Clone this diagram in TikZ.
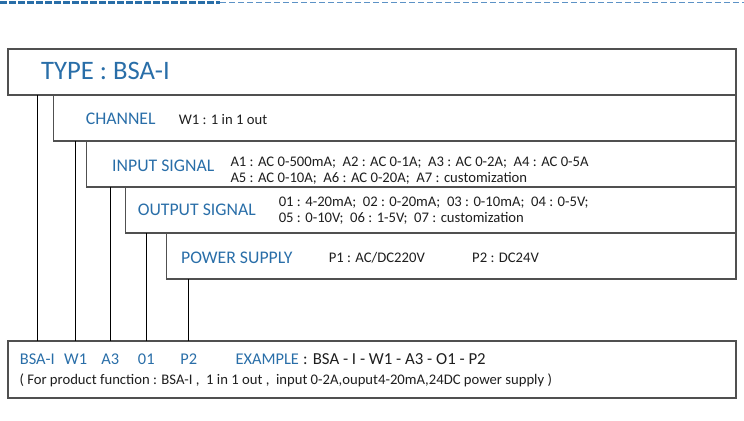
\documentclass[tikz,border=0pt]{standalone}
\usepackage{fontspec}
\setmainfont{Carlito}
\definecolor{typeblue}{RGB}{41,110,168}
\definecolor{dashblue}{RGB}{92,146,198}
\definecolor{boxgray}{RGB}{80,80,80}
\definecolor{txtgray}{RGB}{30,30,30}
\tikzset{every picture/.style={line width=0.75pt}}
\tikzset{
  framebox/.style={draw=boxgray, line width=1pt},
  drop/.style={draw=black, line width=0.75pt},
  headbig/.style={anchor=base west, inner sep=0pt, text=typeblue, font=\fontsize{20}{24}\selectfont},
  head/.style={anchor=base west, inner sep=0pt, text=typeblue, font=\fontsize{13.3}{16}\selectfont},
  desc/.style={anchor=base west, inner sep=0pt, text=txtgray, font=\fontsize{11}{13}\selectfont},
  code/.style={anchor=base, inner sep=0pt, text=typeblue, font=\fontsize{12.3}{14}\selectfont},
  exdesc/.style={anchor=base west, inner sep=0pt, text=txtgray, font=\fontsize{12.6}{14}\selectfont},
}

\begin{document}
\begin{tikzpicture}[x=0.75pt,y=0.75pt,yscale=-1,xscale=1]
	\useasboundingbox (0,0) rectangle (744,421);
	
	%Straight Lines: dashed rule on top
	\coordinate (ruleL) at (0,2.5);
	\coordinate (ruleM) at (220,2.5);
	\coordinate (ruleR) at (744,2.5);
	\draw [color=typeblue, line width=2.25pt, dash pattern=on 5.25pt off 1.5pt] (ruleL) -- (ruleM) ;
	\draw [color=dashblue, line width=1.1pt, dash pattern=on 4.5pt off 2.25pt] (ruleM) -- (ruleR) ;
	
	%Shape: Rectangle -- type
	\coordinate (typeNW) at (8,49);      \coordinate (typeSE) at (736,95);
	\draw [framebox] (typeNW) rectangle (typeSE) ;
	%Shape: Rectangle -- channel
	\coordinate (chanNW) at (53.5,95);   \coordinate (chanSE) at (736,141);
	\draw [framebox] (chanNW) rectangle (chanSE) ;
	%Shape: Rectangle -- input
	\coordinate (inNW) at (86.5,141);    \coordinate (inSE) at (736,187);
	\draw [framebox] (inNW) rectangle (inSE) ;
	%Shape: Rectangle -- output
	\coordinate (outNW) at (125.5,187);  \coordinate (outSE) at (736,233);
	\draw [framebox] (outNW) rectangle (outSE) ;
	%Shape: Rectangle -- power
	\coordinate (pwrNW) at (166.5,233);  \coordinate (pwrSE) at (736,279);
	\draw [framebox] (pwrNW) rectangle (pwrSE) ;
	%Shape: Rectangle -- example
	\coordinate (exNW) at (8,341);       \coordinate (exSE) at (736,398);
	\draw [framebox] (exNW) rectangle (exSE) ;
	
	% Text Node
	\node (typeT) [headbig] at (40.7,79.3) {TYPE : BSA-I};
	% Text Node
	\node (chanT) [head] at (85.3,124.7) {CHANNEL};
	\node (chanD) [desc] at (178.3,124) {W1 : 1 in 1 out};
	% Text Node
	\node (inT) [head] at (111.7,171) {INPUT SIGNAL};
	\node (inD1) [desc] at (230,166.3) {A1 : AC 0-500mA; \ A2 : AC 0-1A; \ A3 : AC 0-2A; \ A4 : AC 0-5A};
	\node (inD2) [desc] at (230,182.7) {A5 : AC 0-10A; \ A6 : AC 0-20A; \ A7 : customization};
	% Text Node
	\node (outT) [head] at (137.3,215.7) {OUTPUT SIGNAL};
	\node (outD1) [desc] at (278.3,206.7) {01 : 4-20mA; \ 02 : 0-20mA; \ 03 : 0-10mA; \ 04 : 0-5V;};
	\node (outD2) [desc] at (278.3,222.7) {05 : 0-10V; \ 06 : 1-5V; \ 07 : customization};
	% Text Node
	\node (pwrT) [head] at (180.7,263.3) {POWER SUPPLY};
	\node (pwrD1) [desc] at (328.3,262.5) {P1 : AC/DC220V};
	\node (pwrD2) [desc] at (471.7,262.5) {P2 : DC24V};
	
	% Text Node -- example codes
	\node (cBsa) [code] at (37.3,364) {BSA-I};
	\node (cW) [code] at (75.7,364) {W1};
	\node (cA) [code] at (110.3,364) {A3};
	\node (cO) [code] at (146.3,364) {01};
	\node (cP) [code] at (188.7,364) {P2};
	\node (exT) [code, anchor=base west] at (235,364) {EXAMPLE};
	\node (exD) [exdesc] at ([xshift=2.5pt]exT.base east) {: BSA - I - W1 - A3 - O1 - P2};
	\node (exN) [desc] at (19,384) {( For product function : BSA-I , \ 1 in 1 out , \ input 0-2A,ouput4-20mA,24DC power supply )};
	
	%Straight Lines: drops to the example
	\draw [drop] (cBsa |- typeSE) -- (cBsa |- exNW) ;
	\draw [drop] (cW |- chanSE) -- (cW |- exNW) ;
	\draw [drop] (cA |- inSE) -- (cA |- exNW) ;
	\draw [drop] (cO |- outSE) -- (cO |- exNW) ;
	\draw [drop] (cP |- pwrSE) -- (cP |- exNW) ;
	
\end{tikzpicture}
\end{document}
